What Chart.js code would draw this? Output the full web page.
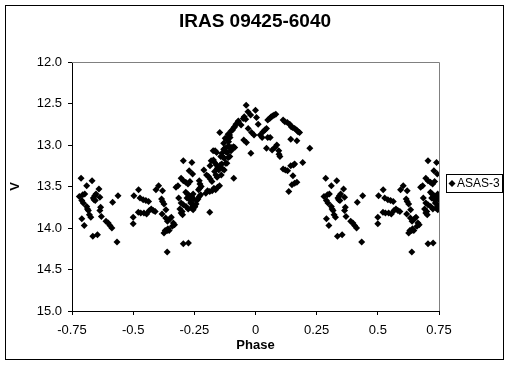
<!DOCTYPE html>
<html>
<head>
<meta charset="utf-8">
<script src="https://cdn.jsdelivr.net/npm/chart.js@4.4.1/dist/chart.umd.min.js"></script>
<style>
  html, body { margin: 0; padding: 0; background: #fff; }
  canvas { display: block; }
</style>
</head>
<body>
<canvas id="lightCurve" width="510" height="365"></canvas>
<script>
// IRAS 09425-6040, ASAS-3 V photometry folded on phase
const xTicks = [-0.75, -0.5, -0.25, 0, 0.25, 0.5, 0.75];
const yTicks = [12.0, 12.5, 13.0, 13.5, 14.0, 14.5, 15.0];

// phase -0.75 .. -0.55
const phaseA = [-0.713,-0.690,-0.668,-0.640,-0.720,-0.706,-0.698,-0.710,-0.704,-0.690,-0.687,-0.683,-0.679,-0.673,-0.663,-0.657,-0.652,-0.660,-0.655,-0.636,-0.633,-0.636,-0.630,-0.710,-0.700,-0.665,-0.646,-0.611,-0.602,-0.595,-0.587,-0.584,-0.562,-0.566];
const magA = [13.40,13.49,13.43,13.53,13.62,13.60,13.59,13.67,13.70,13.74,13.77,13.79,13.84,13.87,13.64,13.61,13.59,13.66,13.67,13.63,13.75,13.79,13.86,13.89,13.97,14.10,14.08,13.92,13.94,13.97,14.00,13.69,13.61,14.17];
// same observations plotted again one cycle later
const phaseA2 = [0.287,0.310,0.332,0.360,0.280,0.294,0.302,0.290,0.296,0.310,0.313,0.317,0.321,0.327,0.337,0.343,0.348,0.340,0.345,0.364,0.367,0.364,0.370,0.290,0.300,0.335,0.354,0.389,0.398,0.405,0.413,0.416,0.438,0.434];

// phase -0.5 .. -0.36
const phaseB = [-0.500,-0.500,-0.497,-0.478,-0.472,-0.459,-0.448,-0.437,-0.479,-0.469,-0.456,-0.445,-0.434,-0.426,-0.418,-0.410,-0.407,-0.396,-0.380,-0.384,-0.380,-0.374,-0.382,-0.366,-0.367,-0.374,-0.369,-0.361,-0.361];
const magB = [13.87,13.95,13.61,13.54,13.64,13.66,13.67,13.68,13.81,13.82,13.82,13.83,13.79,13.77,13.79,13.80,13.54,13.49,13.55,13.65,13.68,13.71,13.83,13.78,13.88,14.06,14.03,14.03,14.29];
const phaseB2 = [0.500,0.500,0.503,0.522,0.528,0.541,0.552,0.563,0.521,0.531,0.544,0.555,0.566,0.574,0.582,0.590,0.593,0.604,0.620,0.616,0.620,0.626,0.618,0.634,0.633,0.626,0.631,0.639,0.639];

// phase -0.36 .. -0.25
const phaseC = [-0.360,-0.350,-0.344,-0.336,-0.331,-0.340,-0.353,-0.358,-0.325,-0.317,-0.314,-0.304,-0.295,-0.295,-0.274,-0.309,-0.304,-0.298,-0.300,-0.295,-0.285,-0.276,-0.268,-0.271,-0.257,-0.260,-0.304,-0.295,-0.284,-0.285,-0.278,-0.270,-0.262,-0.255,-0.280,-0.272,-0.262,-0.252,-0.265,-0.255,-0.275,-0.262,-0.255];
const magC = [13.92,13.89,13.87,13.94,13.96,13.98,14.03,14.01,13.51,13.49,13.64,13.40,13.19,14.19,14.18,13.77,13.82,13.84,13.80,13.43,13.45,13.47,13.44,13.31,13.35,13.21,13.70,13.72,13.74,13.57,13.59,13.61,13.62,13.59,13.64,13.65,13.66,13.65,13.70,13.72,13.77,13.76,13.78];
const phaseC2 = [0.640,0.650,0.656,0.664,0.669,0.660,0.647,0.642,0.675,0.683,0.686,0.696,0.705,0.705,0.726,0.691,0.696,0.702,0.700,0.705,0.715,0.724,0.732,0.729,0.743,0.740,0.696,0.705,0.716,0.715,0.722,0.730,0.738,0.745,0.720,0.728,0.738,0.748,0.735,0.745,0.725,0.738,0.745];

// phase -0.25 .. -0.14
const phaseD = [-0.248,-0.243,-0.250,-0.240,-0.235,-0.230,-0.224,-0.233,-0.228,-0.222,-0.227,-0.230,-0.211,-0.187,-0.203,-0.196,-0.200,-0.192,-0.185,-0.178,-0.186,-0.181,-0.173,-0.165,-0.159,-0.172,-0.167,-0.160,-0.152,-0.156,-0.167,-0.162,-0.157,-0.170,-0.163,-0.155,-0.147,-0.187,-0.177,-0.146];
const magD = [13.74,13.71,13.75,13.67,13.65,13.62,13.60,13.54,13.52,13.50,13.47,13.43,13.30,13.81,13.58,13.55,13.36,13.38,13.41,13.44,13.25,13.19,13.07,13.07,13.09,13.18,13.21,13.24,13.27,13.28,13.32,13.36,13.39,13.52,13.54,13.51,13.49,13.56,13.55,12.85];

// phase -0.15 .. -0.07 (rising branch)
const phaseE = [-0.150,-0.144,-0.138,-0.132,-0.127,-0.121,-0.116,-0.110,-0.140,-0.134,-0.128,-0.122,-0.117,-0.111,-0.105,-0.100,-0.142,-0.137,-0.130,-0.124,-0.104,-0.097,-0.090,-0.085,-0.089,-0.130,-0.124,-0.118,-0.112,-0.106,-0.100,-0.094,-0.088,-0.085,-0.080,-0.070,-0.110,-0.104];
const magE = [13.30,13.24,13.23,13.15,13.16,13.08,13.09,13.01,13.36,13.29,13.30,13.22,13.22,13.15,13.14,13.07,13.14,13.10,13.05,13.04,13.04,13.03,13.02,13.03,13.40,12.98,12.92,12.93,12.87,12.88,12.83,12.82,12.79,12.78,12.75,12.71,12.96,12.91];

// phase -0.07 .. 0.25 (maximum and decline)
const phaseF = [-0.071,-0.059,-0.050,-0.038,-0.046,-0.040,-0.031,-0.020,-0.048,-0.037,-0.030,-0.016,-0.006,-0.019,0.000,0.011,0.004,0.019,0.027,0.031,0.038,0.045,0.050,0.060,0.045,0.068,0.079,0.087,0.095,0.096,0.100,0.050,0.058,0.064,0.070,0.076,0.083,0.113,0.120,0.130,0.140,0.146,0.152,0.160,0.168,0.174,0.180,0.144,0.169,0.222,0.193,0.144,0.155,0.160,0.113,0.122,0.131,0.153,0.169,0.160,0.149,0.136];
const magF = [12.72,12.76,12.68,12.52,12.66,12.69,12.60,12.64,12.94,12.97,12.80,12.85,12.88,13.10,12.58,12.75,12.67,12.88,12.91,12.84,12.82,12.80,12.91,12.91,13.04,13.06,13.03,13.00,13.07,13.11,13.14,12.70,12.68,12.66,12.65,12.64,12.63,12.70,12.72,12.73,12.75,12.78,12.79,12.80,12.82,12.84,12.85,12.93,12.95,13.04,13.21,13.25,13.24,13.23,13.29,13.30,13.31,13.37,13.45,13.46,13.48,13.56];

const groups = [
  [phaseA, magA], [phaseB, magB], [phaseC, magC],
  [phaseD, magD], [phaseE, magE], [phaseF, magF],
  [phaseA2, magA], [phaseB2, magB], [phaseC2, magC]
];

const points = [];
groups.forEach(function(g) {
  g[0].forEach(function(p, i) {
    points.push({ x: p, y: g[1][i] });
  });
});

const FONT = 'Arial, "Liberation Sans", sans-serif';

// white page, outer frame, grey top/right plot edges, framed legend
const excelLook = {
  id: 'excelLook',
  beforeDraw(chart) {
    const c = chart.ctx;
    c.save();
    c.fillStyle = '#fff';
    c.fillRect(0, 0, chart.width, chart.height);
    c.strokeStyle = '#000';
    c.lineWidth = 1;
    c.strokeRect(5.5, 5.5, 498, 354);
    c.restore();
  },
  beforeDatasetsDraw(chart) {
    const a = chart.chartArea;
    const c = chart.ctx;
    c.save();
    c.strokeStyle = '#808080';
    c.lineWidth = 1;
    c.beginPath();
    c.moveTo(a.left, a.top + 0.5);
    c.lineTo(a.right + 0.5, a.top + 0.5);
    c.lineTo(a.right + 0.5, a.bottom);
    c.stroke();
    c.restore();
  },
  afterDraw(chart) {
    const a = chart.chartArea;
    const c = chart.ctx;
    const bx = a.right + 7, by = 174;
    c.save();
    c.strokeStyle = '#000';
    c.lineWidth = 1;
    c.strokeRect(bx + 0.5, by + 0.5, 56, 18);
    c.fillStyle = '#000';
    c.beginPath();
    c.moveTo(bx + 2.5, by + 9.5);
    c.lineTo(bx + 6, by + 6);
    c.lineTo(bx + 9.5, by + 9.5);
    c.lineTo(bx + 6, by + 13);
    c.closePath();
    c.fill();
    c.font = '12px ' + FONT;
    c.textBaseline = 'middle';
    c.textAlign = 'left';
    c.fillText(chart.data.datasets[0].label, bx + 11, by + 10);
    c.restore();
  }
};

new Chart(document.getElementById('lightCurve'), {
  type: 'scatter',
  data: {
    datasets: [{
      label: 'ASAS-3',
      data: points,
      pointStyle: 'rectRot',
      pointRadius: 3.5,
      pointBackgroundColor: '#000',
      pointBorderColor: '#000',
      pointBorderWidth: 0
    }]
  },
  options: {
    responsive: false,
    animation: false,
    events: [],
    layout: { padding: 0 },
    plugins: {
      legend: { display: false },
      tooltip: { enabled: false },
      title: {
        display: true,
        text: 'IRAS 09425-6040',
        color: '#000',
        font: { family: FONT, size: 19, weight: 'bold' },
        padding: { top: 10, bottom: 29.2 }
      }
    },
    scales: {
      x: {
        type: 'linear',
        min: -0.75,
        max: 0.75,
        afterBuildTicks(scale) { scale.ticks = xTicks.map(v => ({ value: v })); },
        afterFit(scale) { scale.height = 54; },
        ticks: {
          color: '#000',
          font: { family: FONT, size: 13 },
          padding: 8,
          callback: v => String(v)
        },
        grid: { drawOnChartArea: false, drawTicks: true, tickLength: 4, color: '#000' },
        border: { color: '#000' },
        title: {
          display: true,
          text: 'Phase',
          color: '#000',
          font: { family: FONT, size: 13, weight: 'bold' },
          padding: { top: 0, bottom: 11.5 }
        }
      },
      y: {
        type: 'linear',
        reverse: true,
        min: 12,
        max: 15,
        afterBuildTicks(scale) { scale.ticks = yTicks.map(v => ({ value: v })); },
        afterFit(scale) { scale.width = 72; },
        ticks: {
          color: '#000',
          font: { family: FONT, size: 13 },
          padding: 6,
          callback: v => v.toFixed(1)
        },
        grid: { drawOnChartArea: false, drawTicks: true, tickLength: 4, color: '#000' },
        border: { color: '#000' },
        title: {
          display: true,
          text: 'V',
          color: '#000',
          font: { family: FONT, size: 13, weight: 'bold' },
          padding: { top: 7.5, bottom: 0 }
        }
      },
      legendSpace: {
        type: 'linear',
        position: 'right',
        display: true,
        afterFit(scale) { scale.width = 71; },
        ticks: { display: false },
        grid: { display: false },
        border: { display: false }
      }
    }
  },
  plugins: [excelLook]
});
</script>
</body>
</html>
